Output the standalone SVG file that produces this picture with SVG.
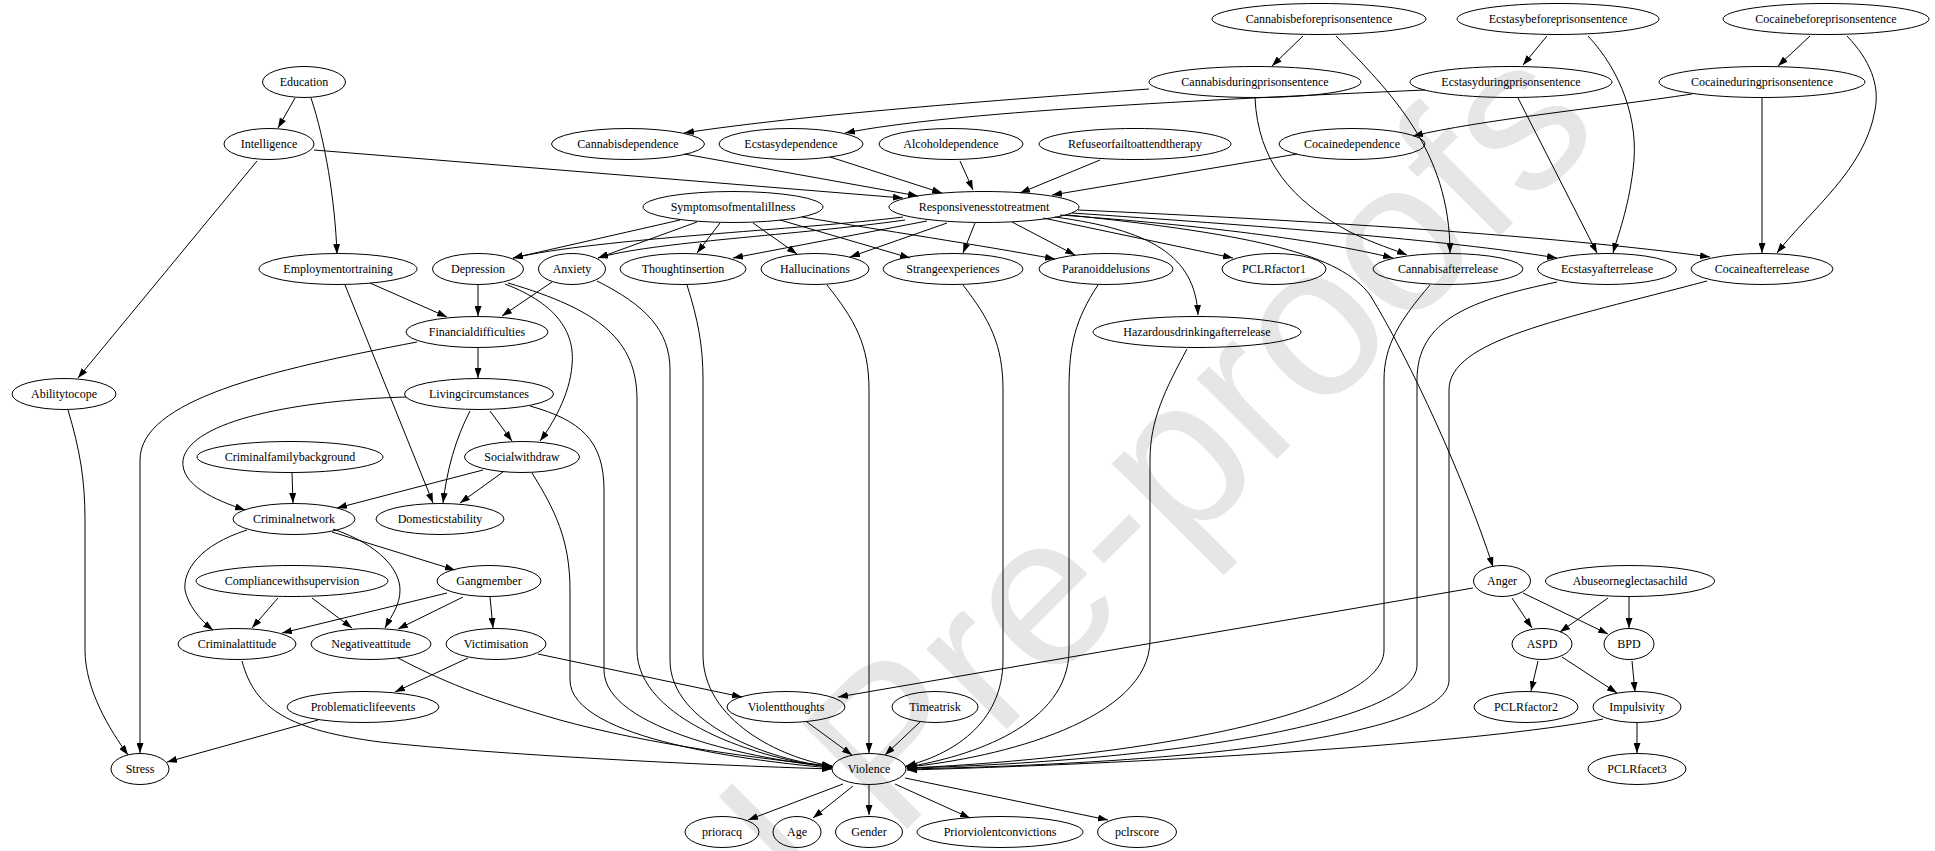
<svg xmlns="http://www.w3.org/2000/svg" width="1935" height="851" viewBox="0 0 1935 851">
<defs>
<style>
.n ellipse{fill:none;stroke:#000;stroke-width:1}
.n text{font-family:"Liberation Serif","Times New Roman",serif;font-size:12px;fill:#000;text-anchor:middle}
.e path{fill:none;stroke:#000;stroke-width:1;marker-end:url(#ah)}
.wm{font-family:"Liberation Sans",Arial,sans-serif;font-size:215px;fill:#e6e6e6}
</style>
<marker id="ah" markerUnits="userSpaceOnUse" markerWidth="10" markerHeight="7" refX="10" refY="3.5" orient="auto">
<path d="M0,0 L10,3.5 L0,7 z" fill="#000"/>
</marker>
</defs>
<rect width="1935" height="851" fill="#fff"/>
<text class="wm" x="354" y="1382" transform="rotate(-45 354 1382)">Journal Pre-proofs</text>
<g class="e" id="connectors">
<path d="M295,98 L278,128"/>
<path d="M311,98 C325,140 335,200 337,254"/>
<path d="M314,150 L903,198"/>
<path d="M257,161 L78,378"/>
<path d="M1303,36 L1272,66"/>
<path d="M1336,36 C1390,92 1450,150 1450,253"/>
<path d="M1547,36 L1523,65"/>
<path d="M1588,36 C1620,70 1640,120 1633,170 C1628,210 1618,235 1613,253"/>
<path d="M1810,36 L1778,66"/>
<path d="M1847,36 C1870,60 1880,85 1875,110 C1865,170 1810,210 1777,253"/>
<path d="M1149,89 C1000,100 800,115 684,133"/>
<path d="M1255,98 C1258,160 1290,200 1350,232 C1375,244 1395,250 1407,255"/>
<path d="M1425,90 C1200,100 950,112 845,133"/>
<path d="M1518,98 L1597,253"/>
<path d="M1692,94 C1600,108 1480,120 1413,136"/>
<path d="M1762,98 L1762,253"/>
<path d="M684,154 L918,196"/>
<path d="M830,157 L942,193"/>
<path d="M960,161 L973,190"/>
<path d="M1100,160 L1020,193"/>
<path d="M1297,154 L1052,195"/>
<path d="M680,220 L513,258"/>
<path d="M697,222 L598,258"/>
<path d="M720,223 L697,253"/>
<path d="M753,223 L797,254"/>
<path d="M780,220 L910,258"/>
<path d="M802,217 C880,230 980,245 1055,259"/>
<path d="M903,217 C800,230 600,238 513,258"/>
<path d="M905,220 C800,235 650,242 598,258"/>
<path d="M927,221 L733,258"/>
<path d="M947,223 L850,257"/>
<path d="M975,223 L963,253"/>
<path d="M1012,222 L1075,255"/>
<path d="M1043,218 L1233,258"/>
<path d="M1060,215 C1200,225 1320,240 1393,258"/>
<path d="M1072,213 C1250,225 1450,240 1557,258"/>
<path d="M1078,210 C1300,220 1550,235 1710,257"/>
<path d="M1055,217 C1150,230 1195,255 1198,315"/>
<path d="M1068,215 C1260,235 1340,255 1370,295 C1410,360 1465,480 1493,567"/>
<path d="M370,283 L447,317"/>
<path d="M345,285 L433,503"/>
<path d="M478,285 L478,316"/>
<path d="M552,282 L502,316"/>
<path d="M505,284 C560,305 575,335 572,365 C570,395 552,425 540,441"/>
<path d="M508,283 C600,310 637,340 637,400 L637,650 C637,720 760,760 832,767"/>
<path d="M597,281 C645,305 670,330 670,370 L670,660 C670,725 770,760 832,767"/>
<path d="M687,285 C698,320 703,345 703,380 L703,655 C703,720 780,758 832,766"/>
<path d="M827,285 C855,320 869,345 869,390 L869,753"/>
<path d="M963,285 C990,320 1003,345 1003,390 L1003,660 C1003,725 950,755 906,766"/>
<path d="M1098,285 C1075,320 1069,345 1069,390 L1069,650 C1069,725 970,757 906,767"/>
<path d="M1187,349 C1165,390 1150,420 1150,460 L1150,640 C1150,720 1000,758 907,767"/>
<path d="M1430,285 C1400,320 1384,345 1384,380 L1384,650 C1384,720 1100,760 907,768"/>
<path d="M1557,282 C1470,300 1417,320 1417,380 L1417,665 C1417,725 1150,762 907,768"/>
<path d="M1707,281 C1560,320 1449,340 1449,390 L1449,680 C1449,735 1200,763 907,769"/>
<path d="M1603,719 C1500,740 1200,762 907,770"/>
<path d="M478,347 L478,378"/>
<path d="M417,342 C270,370 140,400 140,460 L140,753"/>
<path d="M490,411 L512,441"/>
<path d="M470,411 C455,440 447,470 443,503"/>
<path d="M406,397 C300,400 190,420 183,460 C180,485 215,500 245,510"/>
<path d="M530,406 C580,420 604,440 604,490 L604,670 C604,730 760,760 832,767"/>
<path d="M483,470 L337,508"/>
<path d="M503,472 L460,503"/>
<path d="M532,473 C555,510 570,540 570,590 L570,680 C570,740 760,762 832,768"/>
<path d="M292,473 L293,503"/>
<path d="M332,532 L455,570"/>
<path d="M247,530 C200,545 183,570 185,590 C188,605 200,620 213,630"/>
<path d="M333,529 C380,545 400,570 400,590 C400,605 392,615 385,628"/>
<path d="M278,598 L252,628"/>
<path d="M312,598 L352,628"/>
<path d="M447,593 L282,633"/>
<path d="M463,597 L398,629"/>
<path d="M490,597 L493,628"/>
<path d="M468,658 L395,692"/>
<path d="M538,654 L742,697"/>
<path d="M242,661 C255,710 290,730 380,742 C500,755 700,765 832,769"/>
<path d="M398,658 C440,680 480,697 560,720 C650,745 770,760 832,766"/>
<path d="M318,720 L167,762"/>
<path d="M68,410 C80,450 85,480 85,520 L85,650 C85,690 110,730 128,755"/>
<path d="M1473,588 L838,697"/>
<path d="M1512,598 L1532,628"/>
<path d="M1523,593 L1608,634"/>
<path d="M1608,598 L1560,632"/>
<path d="M1629,597 L1629,628"/>
<path d="M1538,661 L1531,691"/>
<path d="M1562,657 L1617,693"/>
<path d="M1632,661 L1635,692"/>
<path d="M1637,723 L1637,753"/>
<path d="M807,722 L852,755"/>
<path d="M920,722 L885,755"/>
<path d="M843,784 L748,820"/>
<path d="M853,786 L813,818"/>
<path d="M869,785 L869,815"/>
<path d="M895,784 L970,818"/>
<path d="M905,778 L1108,820"/>
</g>
<g class="n" id="Cannabisbeforeprisonsentence"><ellipse cx="1319" cy="19" rx="107" ry="15.5"/><text x="1319" y="23">Cannabisbeforeprisonsentence</text></g>
<g class="n" id="Ecstasybeforeprisonsentence"><ellipse cx="1558" cy="19" rx="101" ry="15.5"/><text x="1558" y="23">Ecstasybeforeprisonsentence</text></g>
<g class="n" id="Cocainebeforeprisonsentence"><ellipse cx="1826" cy="19" rx="103" ry="15.5"/><text x="1826" y="23">Cocainebeforeprisonsentence</text></g>
<g class="n" id="Education"><ellipse cx="304" cy="82" rx="41.5" ry="15.5"/><text x="304" y="86">Education</text></g>
<g class="n" id="Cannabisduringprisonsentence"><ellipse cx="1255" cy="82" rx="106" ry="15.5"/><text x="1255" y="86">Cannabisduringprisonsentence</text></g>
<g class="n" id="Ecstasyduringprisonsentence"><ellipse cx="1511" cy="82" rx="101" ry="15.5"/><text x="1511" y="86">Ecstasyduringprisonsentence</text></g>
<g class="n" id="Cocaineduringprisonsentence"><ellipse cx="1762" cy="82" rx="103" ry="15.5"/><text x="1762" y="86">Cocaineduringprisonsentence</text></g>
<g class="n" id="Intelligence"><ellipse cx="269" cy="144" rx="45" ry="15.5"/><text x="269" y="148">Intelligence</text></g>
<g class="n" id="Cannabisdependence"><ellipse cx="628" cy="144" rx="76.5" ry="15.5"/><text x="628" y="148">Cannabisdependence</text></g>
<g class="n" id="Ecstasydependence"><ellipse cx="791" cy="144" rx="72" ry="15.5"/><text x="791" y="148">Ecstasydependence</text></g>
<g class="n" id="Alcoholdependence"><ellipse cx="951" cy="144" rx="72" ry="15.5"/><text x="951" y="148">Alcoholdependence</text></g>
<g class="n" id="Refuseorfailtoattendtherapy"><ellipse cx="1135" cy="144" rx="96" ry="15.5"/><text x="1135" y="148">Refuseorfailtoattendtherapy</text></g>
<g class="n" id="Cocainedependence"><ellipse cx="1352" cy="144" rx="73" ry="15.5"/><text x="1352" y="148">Cocainedependence</text></g>
<g class="n" id="Symptomsofmentalillness"><ellipse cx="733" cy="207" rx="90" ry="15.5"/><text x="733" y="211">Symptomsofmentalillness</text></g>
<g class="n" id="Responsivenesstotreatment"><ellipse cx="984" cy="207" rx="95" ry="15.5"/><text x="984" y="211">Responsivenesstotreatment</text></g>
<g class="n" id="Employmentortraining"><ellipse cx="338" cy="269" rx="79" ry="15.5"/><text x="338" y="273">Employmentortraining</text></g>
<g class="n" id="Depression"><ellipse cx="478" cy="269" rx="45.5" ry="15.5"/><text x="478" y="273">Depression</text></g>
<g class="n" id="Anxiety"><ellipse cx="572" cy="269" rx="33.5" ry="15.5"/><text x="572" y="273">Anxiety</text></g>
<g class="n" id="Thoughtinsertion"><ellipse cx="683" cy="269" rx="63" ry="15.5"/><text x="683" y="273">Thoughtinsertion</text></g>
<g class="n" id="Hallucinations"><ellipse cx="815" cy="269" rx="54" ry="15.5"/><text x="815" y="273">Hallucinations</text></g>
<g class="n" id="Strangeexperiences"><ellipse cx="953" cy="269" rx="70" ry="15.5"/><text x="953" y="273">Strangeexperiences</text></g>
<g class="n" id="Paranoiddelusions"><ellipse cx="1106" cy="269" rx="67" ry="15.5"/><text x="1106" y="273">Paranoiddelusions</text></g>
<g class="n" id="PCLRfactor1"><ellipse cx="1274" cy="269" rx="52" ry="15.5"/><text x="1274" y="273">PCLRfactor1</text></g>
<g class="n" id="Cannabisafterrelease"><ellipse cx="1448" cy="269" rx="75" ry="15.5"/><text x="1448" y="273">Cannabisafterrelease</text></g>
<g class="n" id="Ecstasyafterrelease"><ellipse cx="1607" cy="269" rx="69.5" ry="15.5"/><text x="1607" y="273">Ecstasyafterrelease</text></g>
<g class="n" id="Cocaineafterrelease"><ellipse cx="1762" cy="269" rx="71" ry="15.5"/><text x="1762" y="273">Cocaineafterrelease</text></g>
<g class="n" id="Financialdifficulties"><ellipse cx="477" cy="332" rx="71" ry="15.5"/><text x="477" y="336">Financialdifficulties</text></g>
<g class="n" id="Hazardousdrinkingafterrelease"><ellipse cx="1197" cy="332" rx="104" ry="15.5"/><text x="1197" y="336">Hazardousdrinkingafterrelease</text></g>
<g class="n" id="Abilitytocope"><ellipse cx="64" cy="394" rx="52" ry="15.5"/><text x="64" y="398">Abilitytocope</text></g>
<g class="n" id="Livingcircumstances"><ellipse cx="479" cy="394" rx="74.5" ry="15.5"/><text x="479" y="398">Livingcircumstances</text></g>
<g class="n" id="Criminalfamilybackground"><ellipse cx="290" cy="457" rx="93" ry="15.5"/><text x="290" y="461">Criminalfamilybackground</text></g>
<g class="n" id="Socialwithdraw"><ellipse cx="522" cy="457" rx="57.5" ry="15.5"/><text x="522" y="461">Socialwithdraw</text></g>
<g class="n" id="Criminalnetwork"><ellipse cx="294" cy="519" rx="61" ry="15.5"/><text x="294" y="523">Criminalnetwork</text></g>
<g class="n" id="Domesticstability"><ellipse cx="440" cy="519" rx="64" ry="15.5"/><text x="440" y="523">Domesticstability</text></g>
<g class="n" id="Compliancewithsupervision"><ellipse cx="292" cy="581" rx="96" ry="15.5"/><text x="292" y="585">Compliancewithsupervision</text></g>
<g class="n" id="Gangmember"><ellipse cx="489" cy="581" rx="52" ry="15.5"/><text x="489" y="585">Gangmember</text></g>
<g class="n" id="Anger"><ellipse cx="1502" cy="581" rx="28.5" ry="15.5"/><text x="1502" y="585">Anger</text></g>
<g class="n" id="Abuseorneglectasachild"><ellipse cx="1630" cy="581" rx="84.5" ry="15.5"/><text x="1630" y="585">Abuseorneglectasachild</text></g>
<g class="n" id="Criminalattitude"><ellipse cx="237" cy="644" rx="59" ry="15.5"/><text x="237" y="648">Criminalattitude</text></g>
<g class="n" id="Negativeattitude"><ellipse cx="371" cy="644" rx="60" ry="15.5"/><text x="371" y="648">Negativeattitude</text></g>
<g class="n" id="Victimisation"><ellipse cx="496" cy="644" rx="50" ry="15.5"/><text x="496" y="648">Victimisation</text></g>
<g class="n" id="ASPD"><ellipse cx="1542" cy="644" rx="30" ry="15.5"/><text x="1542" y="648">ASPD</text></g>
<g class="n" id="BPD"><ellipse cx="1629" cy="644" rx="25" ry="15.5"/><text x="1629" y="648">BPD</text></g>
<g class="n" id="Problematiclifeevents"><ellipse cx="363" cy="707" rx="76" ry="15.5"/><text x="363" y="711">Problematiclifeevents</text></g>
<g class="n" id="Violentthoughts"><ellipse cx="786" cy="707" rx="59" ry="15.5"/><text x="786" y="711">Violentthoughts</text></g>
<g class="n" id="Timeatrisk"><ellipse cx="935" cy="707" rx="43" ry="15.5"/><text x="935" y="711">Timeatrisk</text></g>
<g class="n" id="PCLRfactor2"><ellipse cx="1526" cy="707" rx="52" ry="15.5"/><text x="1526" y="711">PCLRfactor2</text></g>
<g class="n" id="Impulsivity"><ellipse cx="1637" cy="707" rx="44" ry="15.5"/><text x="1637" y="711">Impulsivity</text></g>
<g class="n" id="Stress"><ellipse cx="140" cy="769" rx="29" ry="15.5"/><text x="140" y="773">Stress</text></g>
<g class="n" id="Violence"><ellipse cx="869" cy="769" rx="37" ry="15.5"/><text x="869" y="773">Violence</text></g>
<g class="n" id="PCLRfacet3"><ellipse cx="1637" cy="769" rx="49" ry="15.5"/><text x="1637" y="773">PCLRfacet3</text></g>
<g class="n" id="prioracq"><ellipse cx="722" cy="832" rx="37" ry="15.5"/><text x="722" y="836">prioracq</text></g>
<g class="n" id="Age"><ellipse cx="797" cy="832" rx="24" ry="15.5"/><text x="797" y="836">Age</text></g>
<g class="n" id="Gender"><ellipse cx="869" cy="832" rx="33.5" ry="15.5"/><text x="869" y="836">Gender</text></g>
<g class="n" id="Priorviolentconvictions"><ellipse cx="1000" cy="832" rx="83" ry="15.5"/><text x="1000" y="836">Priorviolentconvictions</text></g>
<g class="n" id="pclrscore"><ellipse cx="1137" cy="832" rx="39.5" ry="15.5"/><text x="1137" y="836">pclrscore</text></g>
</svg>
